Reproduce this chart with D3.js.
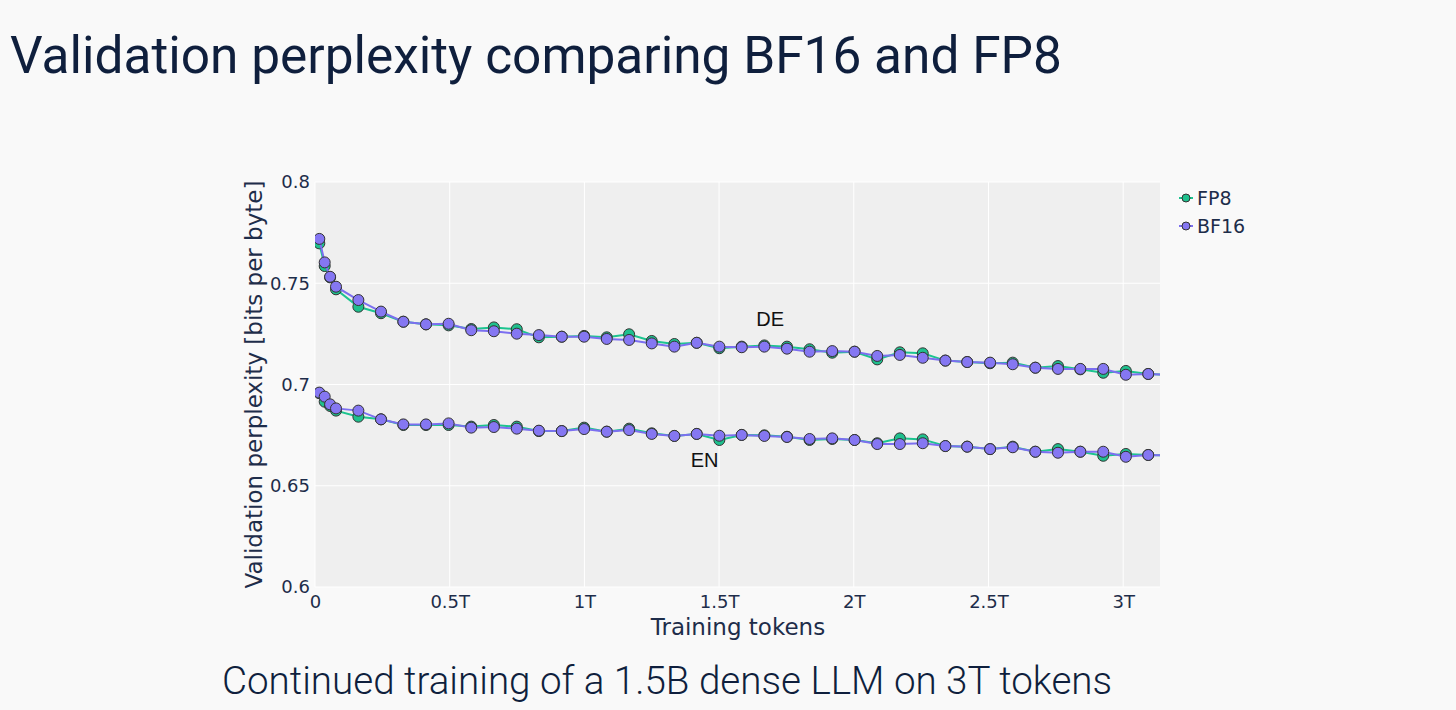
<!DOCTYPE html>
<html>
<head>
<meta charset="utf-8">
<script src="https://cdn.jsdelivr.net/npm/d3@7"></script>
<style>
  body { margin: 0; background: #f9f9f9; }
  svg { display: block; }
</style>
</head>
<body>
<svg id="chart" width="1456" height="710"></svg>
<script>
// training tokens (in T) for each eval point, the last one sits past the axis end
var tokens = [0.016, 0.036, 0.056, 0.078, 0.161, 0.245, 0.328, 0.412, 0.496, 0.580,
  0.664, 0.749, 0.831, 0.916, 0.999, 1.083, 1.166, 1.250, 1.334, 1.417,
  1.501, 1.584, 1.668, 1.752, 1.836, 1.920, 2.003, 2.087, 2.171, 2.256,
  2.340, 2.421, 2.506, 2.590, 2.674, 2.758, 2.841, 2.926, 3.010, 3.093, 3.177];

var deBF16 = [0.7719, 0.7603, 0.7532, 0.7483, 0.7417, 0.7360, 0.7310, 0.7297, 0.7300, 0.7268,
  0.7263, 0.7251, 0.7244, 0.7236, 0.7236, 0.7225, 0.7220, 0.7203, 0.7187, 0.7206,
  0.7187, 0.7184, 0.7187, 0.7177, 0.7162, 0.7165, 0.7162, 0.7141, 0.7146, 0.7132,
  0.7118, 0.7111, 0.7108, 0.7100, 0.7083, 0.7077, 0.7077, 0.7077, 0.7048, 0.7052, 0.7046];
var deFP8 = [0.7697, 0.7585, 0.7529, 0.7470, 0.7384, 0.7352, 0.7310, 0.7297, 0.7292, 0.7274,
  0.7282, 0.7273, 0.7233, 0.7236, 0.7240, 0.7233, 0.7248, 0.7215, 0.7200, 0.7206,
  0.7179, 0.7187, 0.7193, 0.7187, 0.7174, 0.7157, 0.7162, 0.7124, 0.7159, 0.7154,
  0.7118, 0.7111, 0.7105, 0.7108, 0.7083, 0.7091, 0.7075, 0.7058, 0.7067, 0.7052, 0.7046];
var enBF16 = [0.6960, 0.6940, 0.6902, 0.6882, 0.6871, 0.6828, 0.6803, 0.6803, 0.6808, 0.6787,
  0.6790, 0.6782, 0.6772, 0.6770, 0.6780, 0.6767, 0.6775, 0.6756, 0.6746, 0.6756,
  0.6747, 0.6751, 0.6746, 0.6741, 0.6731, 0.6734, 0.6726, 0.6706, 0.6706, 0.6710,
  0.6696, 0.6693, 0.6681, 0.6690, 0.6668, 0.6663, 0.6668, 0.6668, 0.6643, 0.6652, 0.6650];
var enFP8 = [0.6957, 0.6915, 0.6894, 0.6871, 0.6841, 0.6828, 0.6800, 0.6800, 0.6800, 0.6792,
  0.6800, 0.6792, 0.6770, 0.6770, 0.6787, 0.6767, 0.6782, 0.6759, 0.6746, 0.6756,
  0.6726, 0.6751, 0.6749, 0.6742, 0.6726, 0.6731, 0.6726, 0.6710, 0.6734, 0.6729,
  0.6696, 0.6693, 0.6681, 0.6693, 0.6668, 0.6681, 0.6668, 0.6648, 0.6657, 0.6652, 0.6650];

var xTicks = [0, 0.5, 1, 1.5, 2, 2.5, 3];
var xTickLabels = ["0", "0.5T", "1T", "1.5T", "2T", "2.5T", "3T"];
var yTicks = [0.6, 0.65, 0.7, 0.75, 0.8];
var yTickLabels = ["0.6", "0.65", "0.7", "0.75", "0.8"];

var colors = { FP8: "#1fc08d", BF16: "#8577f2" };
var lineColors = { FP8: "#1cc48f", BF16: "#7c6ff0" };
var axisFont = "DejaVu Sans";
var textColor = "#1e2d4a";

var svg = d3.select("#chart");
var plot = { left: 315, top: 182, width: 845, height: 405 };

var x = d3.scaleLinear().domain([0, 3.1367]).range([plot.left, plot.left + plot.width]);
var y = d3.scaleLinear().domain([0.6, 0.8]).range([plot.top + plot.height, plot.top]);

// titles
svg.append("text")
  .attr("x", 10).attr("y", 73)
  .style("font-family", "Roboto").style("font-size", "51.4px")
  .style("fill", "#0f1f3d")
  .text("Validation perplexity comparing BF16 and FP8");

svg.append("text")
  .attr("x", 667).attr("y", 694)
  .attr("text-anchor", "middle")
  .style("font-family", "Roboto").style("font-weight", 300).style("font-size", "38.6px")
  .style("fill", "#0f1f3d")
  .text("Continued training of a 1.5B dense LLM on 3T tokens");

// plot background and grid
svg.append("rect")
  .attr("x", plot.left).attr("y", plot.top)
  .attr("width", plot.width).attr("height", plot.height)
  .style("fill", "#efefef");

svg.append("defs").append("clipPath").attr("id", "clip")
  .append("rect")
  .attr("x", plot.left).attr("y", plot.top)
  .attr("width", plot.width).attr("height", plot.height);

svg.append("g")
  .selectAll("line").data(xTicks).join("line")
  .attr("x1", d => x(d)).attr("x2", d => x(d))
  .attr("y1", plot.top).attr("y2", plot.top + plot.height)
  .style("stroke", "#fff").style("stroke-width", 1);

svg.append("g")
  .selectAll("line").data(yTicks).join("line")
  .attr("x1", plot.left).attr("x2", plot.left + plot.width)
  .attr("y1", d => y(d)).attr("y2", d => y(d))
  .style("stroke", "#fff").style("stroke-width", 1);

// axes
var xAxis = svg.append("g")
  .attr("transform", `translate(0,${plot.top + plot.height})`)
  .call(d3.axisBottom(x).tickValues(xTicks).tickFormat((d, i) => xTickLabels[i]).tickSize(0).tickPadding(8));
var yAxis = svg.append("g")
  .attr("transform", `translate(${plot.left},0)`)
  .call(d3.axisLeft(y).tickValues(yTicks).tickFormat((d, i) => yTickLabels[i]).tickSize(0).tickPadding(5));

[xAxis, yAxis].forEach(function (ax) {
  ax.select(".domain").remove();
  ax.selectAll("text")
    .style("font-family", axisFont).style("font-size", "18px")
    .style("fill", textColor);
});

svg.append("text")
  .attr("x", x(1.57)).attr("y", 635)
  .attr("text-anchor", "middle")
  .style("font-family", axisFont).style("font-size", "23px").style("fill", textColor)
  .text("Training tokens");

svg.append("text")
  .attr("transform", `translate(262,${plot.top + plot.height / 2}) rotate(-90)`)
  .attr("text-anchor", "middle")
  .style("font-family", axisFont).style("font-size", "23px").style("fill", textColor)
  .text("Validation perplexity [bits per byte]");

// series
var series = [
  { name: "FP8", values: deFP8 },
  { name: "BF16", values: deBF16 },
  { name: "FP8", values: enFP8 },
  { name: "BF16", values: enBF16 }
];

var line = d3.line().x((d, i) => x(tokens[i])).y(d => y(d));
var marks = svg.append("g").attr("clip-path", "url(#clip)");

series.forEach(function (s) {
  var g = marks.append("g");
  g.append("path")
    .datum(s.values)
    .attr("d", line)
    .style("fill", "none")
    .style("stroke", lineColors[s.name])
    .style("stroke-width", 2);
  g.selectAll("circle").data(s.values).join("circle")
    .attr("cx", (d, i) => x(tokens[i]))
    .attr("cy", d => y(d))
    .attr("r", 5.5)
    .style("fill", colors[s.name])
    .style("stroke", "#333")
    .style("stroke-width", 1);
});

// labels for the two datasets
svg.append("text")
  .attr("x", x(1.69)).attr("y", y(0.7287))
  .attr("text-anchor", "middle")
  .style("font-family", "Liberation Sans, Arial").style("font-size", "20px").style("fill", "#111")
  .text("DE");
svg.append("text")
  .attr("x", x(1.446)).attr("y", y(0.6591))
  .attr("text-anchor", "middle")
  .style("font-family", "Liberation Sans, Arial").style("font-size", "20px").style("fill", "#111")
  .text("EN");

// legend
var legend = svg.append("g").attr("transform", "translate(1179,198)");
["FP8", "BF16"].forEach(function (name, i) {
  var row = legend.append("g").attr("transform", `translate(0,${i * 28})`);
  row.append("line")
    .attr("x1", 0).attr("x2", 14)
    .style("stroke", lineColors[name]).style("stroke-width", 2);
  row.append("circle")
    .attr("cx", 7).attr("r", 4)
    .style("fill", colors[name]).style("stroke", "#333").style("stroke-width", 1);
  row.append("text")
    .attr("x", 18).attr("dy", "0.36em")
    .style("font-family", axisFont).style("font-size", "19px").style("fill", textColor)
    .text(name);
});
</script>
</body>
</html>
